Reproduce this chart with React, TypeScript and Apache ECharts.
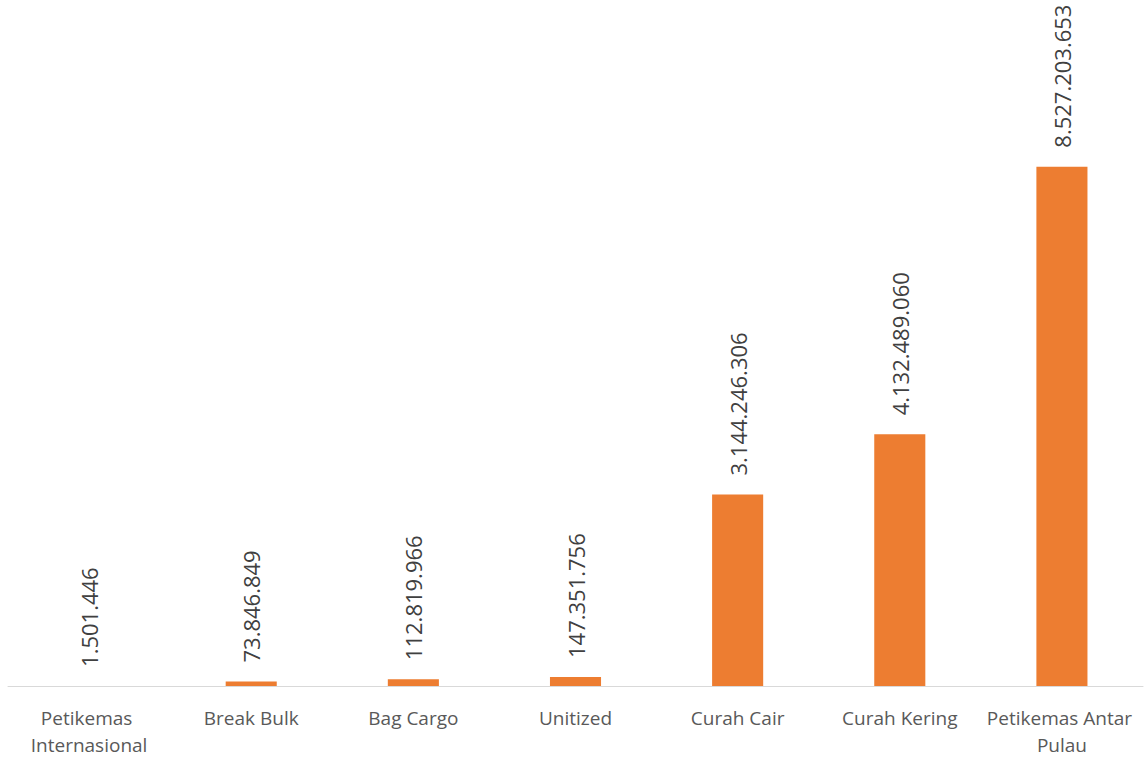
import React, { useEffect, useRef } from "react";
import * as echarts from "echarts";

const categories = [
  "Petikemas Internasional",
  "Break Bulk",
  "Bag Cargo",
  "Unitized",
  "Curah Cair",
  "Curah Kering",
  "Petikemas Antar Pulau",
];
const values = [1501446, 73846849, 112819966, 147351756, 3144246306, 4132489060, 8527203653];

const fmt = (v: number) => String(v).replace(/\B(?=(\d{3})+(?!\d))/g, ".");

export default function App() {
  const ref = useRef<HTMLDivElement>(null);
  useEffect(() => {
    document.body.style.margin = "0";
    const chart = echarts.init(ref.current!, null, { renderer: "svg" });
    chart.setOption({
      animation: false,
      textStyle: { fontFamily: "Open Sans" },
      grid: { left: 8, right: 3, top: 77, bottom: 71, containLabel: false },
      xAxis: {
        type: "category",
        data: categories,
        axisLine: { lineStyle: { color: "#d9d9d9", width: 1 } },
        axisTick: { show: false },
        axisLabel: {
          interval: 0,
          color: "#595959",
          fontSize: 19,
          fontFamily: "Open Sans",
          margin: 18,
          lineHeight: 27,
          width: 158,
          overflow: "break",
        },
      },
      yAxis: {
        type: "value",
        min: 0,
        max: 10000000000,
        show: false,
        splitLine: { show: false },
      },
      series: [
        {
          type: "bar",
          data: values,
          barWidth: "31.5%",
          itemStyle: { color: "#ED7D31" },
          label: {
            show: true,
            position: "top",
            rotate: 90,
            align: "left",
            verticalAlign: "middle",
            distance: 19,
            color: "#404040",
            fontSize: 22,
            fontFamily: "Open Sans",
            formatter: (p: any) => fmt(p.value),
          },
        },
      ],
    });
    return () => chart.dispose();
  }, []);
  return <div ref={ref} style={{ width: 1146, height: 758 }} />;
}
